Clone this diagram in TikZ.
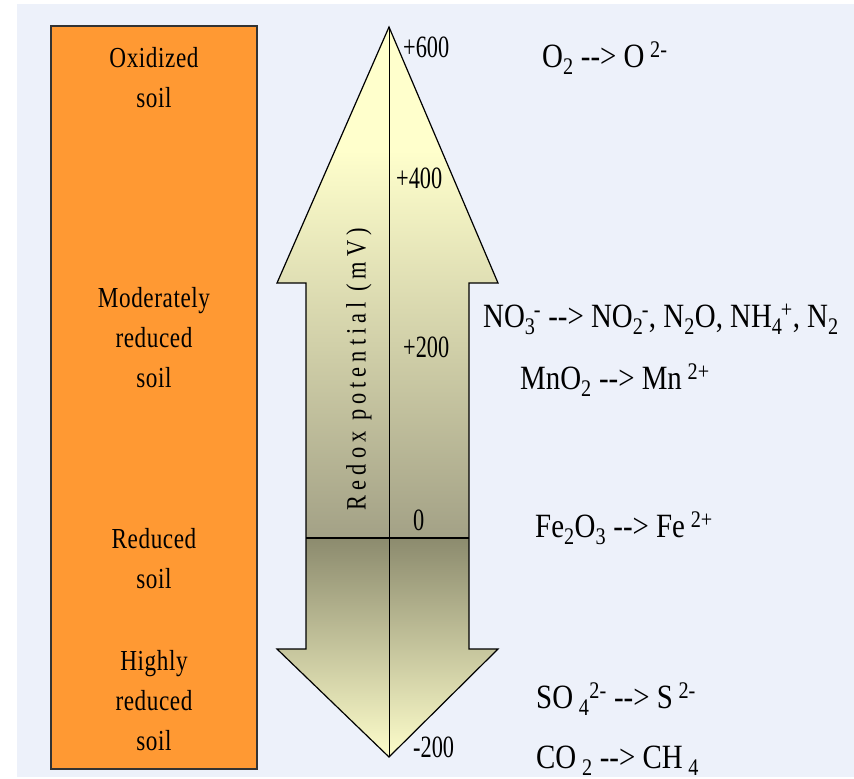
\documentclass[tikz,border=0pt]{standalone}
\usepackage{fontspec}
\setmainfont{Liberation Serif}
\newfontfamily\lblfont[FakeStretch=0.8,LetterSpace=2]{Liberation Serif}
\newfontfamily\numfont[FakeStretch=0.72]{Liberation Serif}
\newfontfamily\chemfont[FakeStretch=0.85]{Liberation Serif}
\newfontfamily\axfont[FakeStretch=0.8,LetterSpace=18]{Liberation Serif}
\newcommand\ssub[1]{\textsubscript{#1}}
\newcommand\ssup[1]{\textsuperscript{#1}}
\newcommand\sbsp[2]{\textsubscript{#1}\kern-0.05em\textsuperscript{#2}}
\definecolor{bgblue}{HTML}{EDF1FA}
\definecolor{soilorange}{HTML}{FF9933}
\definecolor{paleyel}{HTML}{FFFFCC}
\definecolor{midyel}{HTML}{DEDCB0}
\definecolor{darkolive}{HTML}{A3A186}
\definecolor{deepolive}{HTML}{8C8B6E}
\definecolor{lowmid}{HTML}{C4C298}
\tikzset{
  lbl/.style={font=\lblfont\fontsize{29}{40}\selectfont, anchor=base, inner sep=0pt},
  num/.style={font=\numfont\fontsize{31}{36}\selectfont, anchor=base west, inner sep=0pt},
  chem/.style={font=\chemfont\fontsize{34}{40}\selectfont, anchor=base west, inner sep=0pt},
  outline/.style={draw=black, line width=1.2pt, line join=miter},
}
\begin{document}
\begin{tikzpicture}[x=1pt,y=-1pt]
\useasboundingbox (0,0) rectangle (854,779);
\fill[bgblue] (17,4) rectangle (854,777);
% soil column
\node[draw=black!80, line width=1.5pt, fill=soilorange, minimum width=206pt, minimum height=743pt, inner sep=0pt] (soil) at (154,397.5) {};
\node[lbl] (l1a) at (154,67) {Oxidized};
\node[lbl] (l1b) at (154,107) {soil};
\node[lbl] (l2a) at (154,307) {Moderately};
\node[lbl] (l2b) at (154,347) {reduced};
\node[lbl] (l2c) at (154,387) {soil};
\node[lbl] (l3a) at (154,548) {Reduced};
\node[lbl] (l3b) at (154,588) {soil};
\node[lbl] (l4a) at (154,670) {Highly};
\node[lbl] (l4b) at (154,710) {reduced};
\node[lbl] (l4c) at (154,750) {soil};
% double arrow
\coordinate (tip) at (389,27);
\coordinate (bot) at (389,757);
\coordinate (ml) at (306,538);
\coordinate (mr) at (469,538);
\begin{scope}
\clip (tip) -- (498,283) -- (469,283) -- (469,649) -- (498,649) -- (bot) -- (277,649) -- (306,649) -- (306,283) -- (277,283) -- cycle;
\shade[top color=paleyel, middle color=midyel, bottom color=darkolive] (270,150) rectangle (505,538);
\fill[paleyel] (270,20) rectangle (505,150.5);
\shade[top color=deepolive, middle color=lowmid, bottom color=paleyel] (270,538) rectangle (505,760);
\end{scope}
\draw[outline] (tip) -- (498,283) -- (469,283) -- (469,649) -- (498,649) -- (bot) -- (277,649) -- (306,649) -- (306,283) -- (277,283) -- cycle;
\draw[line width=1pt] (tip) -- (bot);
\draw[line width=1.4pt] (ml) -- (mr);
\node[font=\axfont\fontsize{28}{32}\selectfont, rotate=90, inner sep=0pt] (axis) at (359,369) {Redox potential (mV)};
% scale
\node[num] (p600) at (403,57) {+600};
\node[num] (p400) at (396,188) {+400};
\node[num] (p200) at (403,357) {+200};
\node[num] (z0) at (413,530) {0};
\node[num] (m200) at (413,757) {-200};
% reactions
\node[chem] (r1) at (542,67) {O\ssub{2} -{}-> O\,\ssup{2-}};
\node[chem] (r2) at (483,327) {NO\sbsp{3}{-} -{}-> NO\sbsp{2}{-}, N\ssub{2}O, NH\sbsp{4}{+}, N\ssub{2}};
\node[chem] (r3) at (520,389) {MnO\ssub{2} -{}-> Mn\,\ssup{2+}};
\node[chem] (r4) at (535,537) {Fe\ssub{2}O\ssub{3} -{}-> Fe\,\ssup{2+}};
\node[chem] (r5) at (536,708) {SO\,\ssub{4}\ssup{2-} -{}-> S\,\ssup{2-}};
\node[chem] (r6) at (536,768) {CO\,\ssub{2} -{}-> CH\,\ssub{4}};
\end{tikzpicture}
\end{document}
